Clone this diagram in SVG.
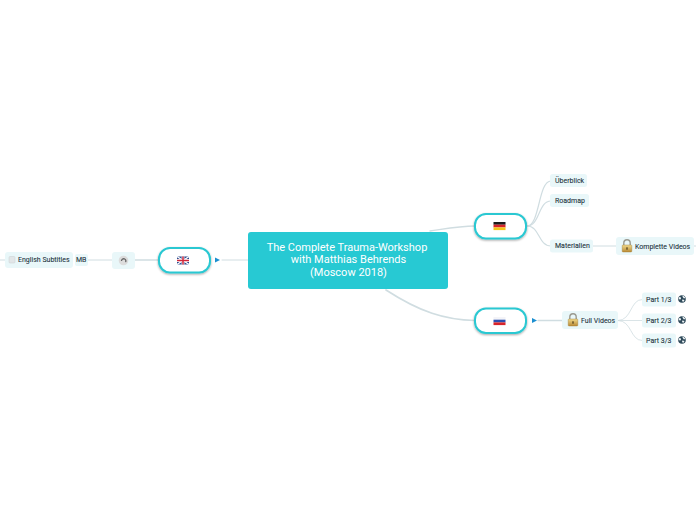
<svg xmlns="http://www.w3.org/2000/svg" width="696" height="520" viewBox="0 0 696 520">
<defs>
<filter id="sh" x="-20%" y="-30%" width="140%" height="170%"><feDropShadow dx="0" dy="1" stdDeviation="0.8" flood-color="#000" flood-opacity="0.35"/></filter>
<linearGradient id="lock" x1="0" y1="0" x2="0" y2="1"><stop offset="0" stop-color="#f0d98a"/><stop offset="1" stop-color="#b98a35"/></linearGradient>
<g id="lockicon"><path d="M-3.2 -1V-3a3.2 3.2 0 0 1 6.4 0V-1" fill="none" stroke="#9a9a90" stroke-width="1.4"/><rect x="-4.800" y="-1" width="9.600" height="7" rx="0.800" fill="url(#lock)" stroke="#9c7a35" stroke-width="0.400"/><rect x="-0.600" y="1.300" width="1.200" height="2.400" fill="#4a3a1a"/></g>
<g id="globe"><circle r="3.800" fill="#2f4a5a"/><path d="M-2.500 -2.300C-1 -2 -.5 -.8 -1.400 .2C-2.300 .8 -2.800 .3 -3.300 -.6ZM.5 -3.400C2 -3 3 -2 3.300 -.8L1.600 -.8C1 -1.800 .3 -2 .5 -3.400ZM.2 .6L2.600 .9L1.200 3.100C.4 2.600 -.2 1.600 .2 .6Z" fill="#eef4f6"/></g>
</defs>
<style>
text{font-family:Roboto,"Liberation Sans",sans-serif}
.t{font-size:7px;fill:#22333c;stroke:#22333c;stroke-width:.08}
.bg{fill:#e9f7f9}
.flag{fill:#fff;stroke:#29c8d2;stroke-width:2;filter:url(#sh)}
.c{fill:none;stroke:#d0dde1;stroke-linecap:round}
.r{font-size:11px;fill:#fff;text-anchor:middle}
.tri{fill:#1c8fd0}
</style>
<rect width="696" height="520" fill="#fff"/>
<g id="connectors">
<path class="c" stroke-width="1" d="M248 260H222"/>
<path class="c" stroke-width="1.600" d="M159 260H135"/>
<path class="c" stroke-width="1" d="M112 260H88"/>
<path class="c" stroke-width="1" d="M5 260H0"/>
<path class="c" stroke-width="1.300" d="M430 231C450 228 460 226 475 226"/>
<path class="c" stroke-width="1.700" d="M386 290C420 312 445 320 475 320.500"/>
<path class="c" stroke-width="1.200" d="M527 226C540 226 538 181 551 181"/>
<path class="c" stroke-width="1.200" d="M527 226C540 226 538 201 551 201"/>
<path class="c" stroke-width="1.200" d="M527 226C540 226 538 246 551 246"/>
<path class="c" stroke-width="1" d="M593 246H616"/>
<path class="c" stroke-width="1" d="M694 246H696"/>
<path class="c" stroke-width="1.300" d="M538 320.500H562"/>
<path class="c" stroke-width="0.800" d="M618 320.500C632 320.500 630 299.500 642 299.500"/>
<path class="c" stroke-width="0.800" d="M618 320.500H642"/>
<path class="c" stroke-width="0.800" d="M618 320.500C632 320.500 630 340.500 642 340.500"/>
<path class="tri" d="M215 257.500L220 260L215 262.500Z"/>
<path class="tri" d="M532 318L537 320.500L532 323Z"/>
</g>
<g id="root"><rect x="248" y="232" width="200" height="57" rx="3" fill="#27c9d3"/>
<text class="r" x="347" y="250.500">The Complete Trauma-Workshop</text>
<text class="r" x="348.500" y="263">with Matthias Behrends</text>
<text class="r" x="348.500" y="275.500">(Moscow 2018)</text></g>
<g id="uk"><rect class="flag" x="159" y="248" width="51" height="24.500" rx="11"/>
<g transform="translate(183 260.500)"><rect x="-6" y="-4" width="12" height="8" fill="#2a4b8d"/><path d="M-6 -4L6 4M6 -4L-6 4" stroke="#fff" stroke-width="1.500"/><path d="M-6 0H6M0 -4V4" stroke="#fff" stroke-width="2.800"/><path d="M-6 0H6M0 -4V4" stroke="#d0263a" stroke-width="1.500"/></g></g>
<g id="de"><rect class="flag" x="475" y="214" width="51" height="24.500" rx="11"/>
<g transform="translate(499.500 226)"><rect x="-6" y="-4" width="12" height="2.700" fill="#1a1a1a"/><rect x="-6" y="-1.300" width="12" height="2.700" fill="#d8242a"/><rect x="-6" y="1.400" width="12" height="2.700" fill="#f5c518"/></g></g>
<g id="ru"><rect class="flag" x="475" y="308.500" width="51" height="24.500" rx="11"/>
<g transform="translate(499.500 321)"><rect x="-6" y="-4" width="12" height="2.700" fill="#f4f4f8"/><rect x="-6" y="-1.300" width="12" height="2.700" fill="#2c4fb0"/><rect x="-6" y="1.400" width="12" height="2.700" fill="#d8242a"/></g></g>
<g id="audio"><rect class="bg" x="112" y="252" width="23" height="17" rx="3"/><circle cx="123.500" cy="260.500" r="4.800" fill="#dcdcdc"/><path d="M121.500 261a2.200 2.200 0 1 1 4 1.200" fill="none" stroke="#666" stroke-width="1.300"/></g>
<g id="mb"><rect class="bg" x="75" y="254" width="13" height="12" rx="2"/><text class="t" x="76" y="262">MB</text></g>
<g id="subs"><rect class="bg" x="5" y="252" width="68" height="16" rx="3"/><rect x="9" y="256.500" width="6" height="6.500" rx="1" fill="#e2e6e8" stroke="#c8ced1" stroke-width=".5"/><text class="t" x="18" y="262">English Subtitles</text></g>
<g id="ueberblick"><rect class="bg" x="550" y="174" width="37" height="13" rx="2.500"/><text class="t" x="555" y="183">Überblick</text></g>
<g id="roadmap"><rect class="bg" x="550" y="194" width="39" height="13" rx="2.500"/><text class="t" x="555" y="203">Roadmap</text></g>
<g id="materialien"><rect class="bg" x="550" y="239.500" width="43" height="13" rx="2.500"/><text class="t" x="555" y="248">Materialien</text></g>
<g id="komplette"><rect class="bg" x="616" y="237" width="78" height="18" rx="3"/><use href="#lockicon" x="627" y="246"/><text class="t" x="635" y="249">Komplette Videos</text></g>
<g id="full"><rect class="bg" x="562" y="311" width="56" height="18" rx="3"/><use href="#lockicon" x="573" y="320"/><text class="t" x="581" y="323">Full Videos</text></g>
<g id="p1"><rect class="bg" x="642" y="292.500" width="34" height="14" rx="2.500"/><text class="t" x="646" y="302">Part 1/3</text><use href="#globe" x="682" y="299"/></g>
<g id="p2"><rect class="bg" x="642" y="313.500" width="34" height="14" rx="2.500"/><text class="t" x="646" y="323">Part 2/3</text><use href="#globe" x="682" y="320"/></g>
<g id="p3"><rect class="bg" x="642" y="333.500" width="34" height="14" rx="2.500"/><text class="t" x="646" y="343">Part 3/3</text><use href="#globe" x="682" y="340"/></g>
</svg>
